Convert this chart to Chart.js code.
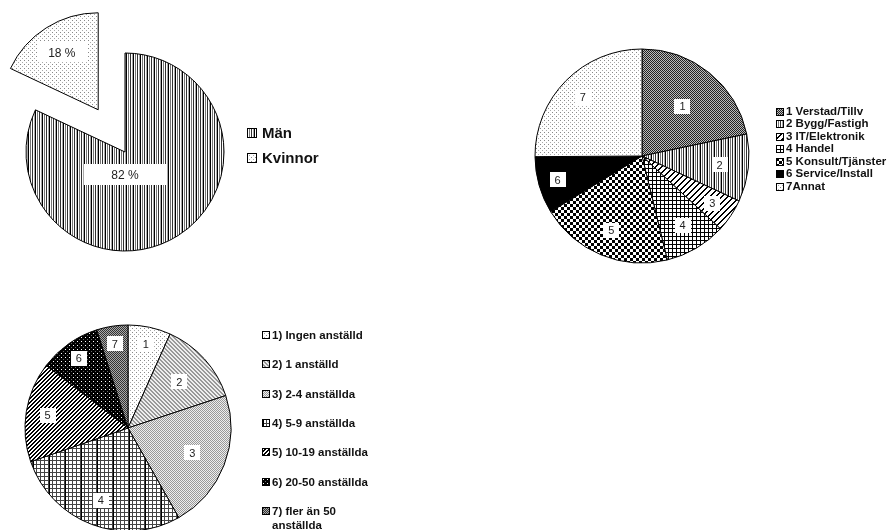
<!DOCTYPE html>
<html>
<head>
<meta charset="utf-8">
<script src="https://cdn.jsdelivr.net/npm/chart.js@4"></script>
<style>
  body { margin: 0; background: #fff; width: 892px; height: 530px; overflow: hidden; position: relative;
         font-family: "Liberation Sans", Arial, sans-serif; }
  canvas.pie { position: absolute; left: 0; top: 0; }
  .item { position: absolute; white-space: nowrap; color: #111; font-weight: bold; }
  .item canvas { position: absolute; left: 0; }
  .item span { display: block; }
</style>
</head>
<body>
<canvas id="genderMain" class="pie" width="892" height="560"></canvas>
<canvas id="genderCut" class="pie" width="892" height="560"></canvas>
<canvas id="branch" class="pie" width="892" height="560"></canvas>
<canvas id="size" class="pie" width="892" height="560"></canvas>
<script>
const genderLabels = ["Män", "Kvinnor"];
const genderValues = [82, 18];

const branchLabels = ["1 Verstad/Tillv", "2 Bygg/Fastigh", "3 IT/Elektronik", "4 Handel",
                      "5 Konsult/Tjänster", "6 Service/Install", "7Annat"];
const branchValues = [21.7, 10.2, 5.0, 9.3, 20.1, 8.6, 25.1];

const sizeLabels = ["1) Ingen anställd", "2) 1 anställd", "3) 2-4 anställda", "4) 5-9 anställda",
                    "5) 10-19 anställda", "6) 20-50 anställda", ["7) fler än 50", "anställda"]];
const sizeValues = [6.7, 13.2, 21.9, 27.9, 15.7, 9.7, 4.9];

const W = 892, H = 560;
const NONE = "rgba(0,0,0,0)";

// small bitmap tiles used as hatch fills
function tile(w, h, bg, paint) {
    const c = document.createElement("canvas");
    c.width = w; c.height = h;
    const g = c.getContext("2d");
    g.fillStyle = bg;
    g.fillRect(0, 0, w, h);
    paint((x, y, col) => { g.fillStyle = col; g.fillRect(x, y, 1, 1); });
    return g.createPattern(c, "repeat");
}

const vstripe = tile(7, 1, "#fff", px => {
    px(0, 0, "#000"); px(2, 0, "#777"); px(4, 0, "#333"); px(6, 0, "#aaa");
});
const dotsLight = tile(4, 4, "#fff", px => { px(0, 0, "#888"); px(2, 2, "#aaa"); });
const darkCheck = tile(2, 2, "#bbb", px => { px(0, 0, "#222"); px(1, 1, "#222"); });
const diagWide = tile(6, 6, "#fff", px => {
    for (let i = 0; i < 6; i++) { px(i, 5 - i, "#000"); px((i + 1) % 6, 5 - i, "#000"); }
});
const smallGrid = tile(4, 4, "#fff", px => {
    for (let i = 0; i < 4; i++) { px(i, 0, "#000"); px(0, i, "#000"); }
});
const bigCheck = tile(6, 6, "#fff", px => {
    for (let y = 0; y < 6; y++) for (let x = 0; x < 6; x++) if ((x < 3) === (y < 3)) px(x, y, "#000");
});
const greyDiag = tile(4, 4, "#eee", px => {
    for (let y = 0; y < 4; y++) for (let x = 0; x < 4; x++) if ((x - y + 4) % 4 < 2) px(x, y, "#999");
});
const greyCheck = tile(2, 2, "#eee", px => { px(0, 0, "#999"); px(1, 1, "#999"); });
const plaid = tile(16, 4, "#fff", px => {
    for (let x = 0; x < 16; x++) px(x, 0, "#444");
    for (let y = 0; y < 4; y++) { for (let x = 0; x < 16; x += 4) px(x, y, "#444"); px(1, y, "#000"); }
});
const diagDense = tile(4, 4, "#fff", px => {
    for (let i = 0; i < 4; i++) { px(i, 3 - i, "#000"); px((i + 1) % 4, 3 - i, "#000"); }
});
const blackDots = tile(4, 4, "#000", px => { px(1, 1, "#fff"); px(3, 3, "#666"); });
const darkCheck2 = tile(2, 2, "#aaa", px => { px(0, 0, "#333"); px(1, 1, "#333"); });

const genderFills = [vstripe, dotsLight];
const branchFills = [darkCheck, vstripe, diagWide, smallGrid, bigCheck, "#000", dotsLight];
const sizeFills = [dotsLight, greyDiag, greyCheck, plaid, diagDense, blackDots, darkCheck2];

// white boxed labels inside the slices
const sliceLabels = {
    id: "sliceLabels",
    afterDatasetsDraw(chart, args, opts) {
        const ctx = chart.ctx;
        const arcs = chart.getDatasetMeta(0).data;
        ctx.save();
        ctx.font = opts.font;
        ctx.textAlign = "center";
        ctx.textBaseline = "middle";
        arcs.forEach((arc, i) => {
            const t = opts.text[i];
            if (!t) return;
            const p = arc.getProps(["x", "y", "startAngle", "endAngle", "outerRadius"]);
            const mid = (p.startAngle + p.endAngle) / 2;
            const d = Array.isArray(opts.dist) ? opts.dist[i] : opts.dist;
            const x = p.x + Math.cos(mid) * p.outerRadius * d;
            const y = p.y + Math.sin(mid) * p.outerRadius * d + p.outerRadius * (opts.dy || 0);
            ctx.fillStyle = "#fff";
            ctx.fillRect(Math.round(x - opts.boxW / 2), Math.round(y - opts.boxH / 2), opts.boxW, opts.boxH);
            ctx.fillStyle = "#222";
            ctx.fillText(t, x, y + 1);
        });
        ctx.restore();
    }
};

function makePie(id, labels, values, fills, borders, cx, cy, r, labelOpts) {
    return new Chart(document.getElementById(id), {
        type: "pie",
        data: {
            labels: labels,
            datasets: [{
                data: values,
                backgroundColor: fills,
                borderColor: borders,
                borderWidth: 1,
                clip: false
            }]
        },
        options: {
            responsive: false,
            animation: false,
            events: [],
            radius: r,
            layout: { padding: { left: cx - 5, right: W - cx - 5, top: cy - 5, bottom: H - cy - 5 } },
            plugins: {
                legend: { display: false },
                tooltip: { enabled: false },
                sliceLabels: labelOpts
            }
        },
        plugins: [sliceLabels]
    });
}

const pct = genderValues.map(v => v + " %");

// gender pie, women's slice pulled out along its bisector
makePie("genderMain", genderLabels, genderValues, [vstripe, NONE], ["#000", NONE], 125, 152, 99,
        { text: [pct[0], null], dist: 0, dy: 0.23, font: "12px 'Liberation Sans'", boxW: 82, boxH: 21 });

const total = genderValues[0] + genderValues[1];
const midAngle = -Math.PI / 2 + 2 * Math.PI * (genderValues[0] + genderValues[1] / 2) / total;
const pull = 50;
makePie("genderCut", genderLabels, genderValues, [NONE, dotsLight], [NONE, "#000"],
        125 + Math.cos(midAngle) * pull, 152 + Math.sin(midAngle) * pull, 97,
        { text: [null, pct[1]], dist: 0.7, font: "12px 'Liberation Sans'", boxW: 50, boxH: 20 });

makePie("branch", branchLabels, branchValues, branchFills, "#000", 642, 156, 107,
        { text: branchValues.map((v, i) => String(i + 1)), dist: [0.6, 0.73, 0.79, 0.75, 0.75, 0.82, 0.78],
          font: "11px 'Liberation Sans'", boxW: 16, boxH: 15 });

makePie("size", sizeLabels, sizeValues, sizeFills, "#000", 128, 428, 103,
        { text: sizeValues.map((v, i) => String(i + 1)), dist: [0.83, 0.67, 0.67, 0.75, 0.79, 0.83, 0.83],
          font: "11px 'Liberation Sans'", boxW: 16, boxH: 15 });

// legends
function legend(labels, fills, left, firstY, gap, box, textLeft, fontPx, lineH) {
    labels.forEach((lab, i) => {
        const row = document.createElement("div");
        row.className = "item";
        row.style.left = left + "px";
        row.style.top = (firstY + i * gap - lineH / 2) + "px";
        row.style.fontSize = fontPx + "px";
        row.style.lineHeight = lineH + "px";
        const sw = document.createElement("canvas");
        sw.width = box; sw.height = box;
        sw.style.top = Math.round((lineH - box) / 2) + "px";
        const g = sw.getContext("2d");
        g.fillStyle = fills[i];
        g.fillRect(0, 0, box, box);
        g.strokeStyle = "#000";
        g.strokeRect(0.5, 0.5, box - 1, box - 1);
        row.appendChild(sw);
        const txt = document.createElement("span");
        txt.style.marginLeft = textLeft + "px";
        txt.innerHTML = [].concat(lab).join("<br>");
        row.appendChild(txt);
        document.body.appendChild(row);
    });
}

legend(genderLabels, genderFills, 247, 133, 25, 10, 15, 15, 18);
legend(branchLabels, branchFills, 776, 111, 12.5, 8, 10, 11.5, 13);
legend(sizeLabels, sizeFills, 262, 335, 29.3, 8, 10, 11.5, 14);
</script>
</body>
</html>
